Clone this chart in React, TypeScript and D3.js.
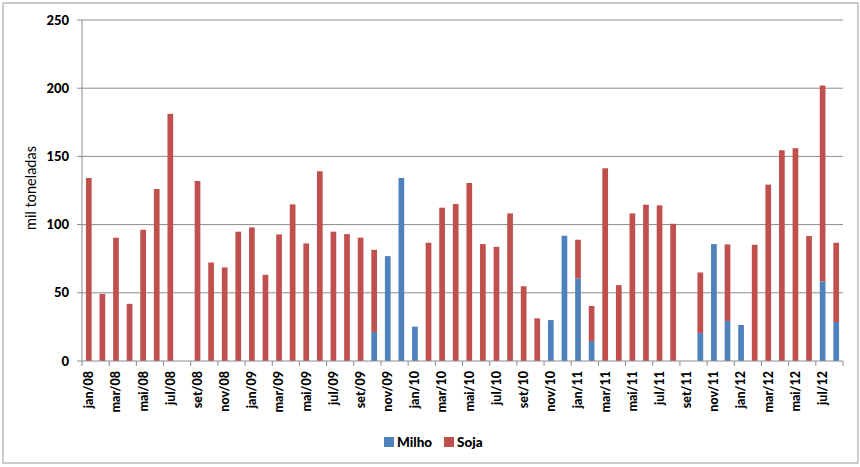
import React from "react";
import * as d3 from "d3";

const months = ["jan", "fev", "mar", "abr", "mai", "jun", "jul", "ago", "set", "out", "nov", "dez"];
const years = ["08", "09", "10", "11", "12"];
const categories: string[] = [];
years.forEach((y) => months.forEach((m) => categories.push(`${m}/${y}`)));
categories.splice(56);

// Milho (mil toneladas)
const milho = [
  0, 0, 0, 0, 0, 0, 0, 0, 0, 0, 0, 0,
  0, 0, 0, 0, 0, 0, 0, 0, 0, 21.3, 76.9, 134.2,
  25.2, 0, 0, 0, 0, 0, 0, 0, 0, 0, 30, 91.8,
  60.5, 14.7, 0, 0, 0, 0, 0, 0, 0, 20.6, 85.7, 29.4,
  26.4, 0, 0, 0, 0, 0, 58.3, 28.6,
];
// Soja (mil toneladas)
const soja = [
  134.2, 49.2, 90.4, 41.9, 96.2, 126.1, 181.2, 0, 132, 72.2, 68.6, 94.8,
  97.9, 63.2, 92.8, 114.8, 86.2, 139.1, 94.8, 93, 90.4, 60.2, 0, 0,
  0, 86.7, 112.4, 115.1, 130.5, 85.7, 83.7, 108.2, 54.8, 31.3, 0, 0,
  28.4, 25.7, 141.3, 55.6, 108.2, 114.6, 114.1, 100.6, 0, 44.3, 0, 56.1,
  0, 85.2, 129.3, 154.5, 156, 91.6, 143.7, 58.1,
];
const yTicks = [0, 50, 100, 150, 200, 250];
const seriesNames = ["Milho", "Soja"];
const colors = ["#4F81BD", "#C0504D"];

const W = 860;
const H = 467;
const left = 82;
const right = 843;
const top = 20;
const bottom = 361;
const font = "Lato, 'Liberation Sans', sans-serif";

export default function App() {
  const x = d3.scaleBand<string>().domain(categories).range([left, right]).paddingInner(0.58).paddingOuter(0.29);
  const y = d3.scaleLinear().domain([0, 250]).range([bottom, top]);
  const step = (right - left) / categories.length;

  const data = categories.map((c, i) => ({ c, milho: milho[i], soja: soja[i] }));
  const stack = d3.stack<any>().keys(["milho", "soja"])(data);

  return (
    <svg width={W} height={H} style={{ display: "block", position: "absolute", left: 0, top: 0 }}>
      <rect x={3} y={3} width={855} height={460} fill="#fff" stroke="#9a9a9a" strokeWidth={1} />
      {yTicks.map((t) => (
        <g key={t}>
          {t > 0 && <line x1={left} x2={right} y1={y(t)} y2={y(t)} stroke="#8c8c8c" strokeWidth={1} />}
          <line x1={left - 5} x2={left} y1={y(t)} y2={y(t)} stroke="#8c8c8c" />
          <text x={69} y={y(t)} dy="0.35em" textAnchor="end" fontFamily={font} fontWeight="900" fontSize={13} fill="#000">
            {t}
          </text>
        </g>
      ))}
      <text
        transform={`translate(36,188) rotate(-90)`}
        textAnchor="middle"
        fontFamily={font}
        fontSize={14.5}
        fill="#000"
      >
        mil toneladas
      </text>
      {stack.map((s, si) => (
        <g key={si} fill={colors[si]}>
          {s.map((d, i) =>
            d[1] - d[0] > 0 ? (
              <rect key={i} x={x(categories[i])} width={x.bandwidth()} y={y(d[1])} height={y(d[0]) - y(d[1])} />
            ) : null
          )}
        </g>
      ))}
      <line x1={left} x2={right} y1={bottom} y2={bottom} stroke="#8c8c8c" />
      <line x1={left} x2={left} y1={top} y2={bottom} stroke="#8c8c8c" />
      {d3.range(0, categories.length + 1, 2).map((i) => (
        <line key={i} x1={left + i * step} x2={left + i * step} y1={bottom} y2={bottom + 5} stroke="#8c8c8c" />
      ))}
      {categories.map((c, i) =>
        i % 2 === 0 ? (
          <text
            key={c}
            transform={`translate(${(x(c) as number) + x.bandwidth() / 2},371) rotate(-90)`}
            textAnchor="end"
            dy="0.35em"
            fontFamily={font}
            fontWeight="900"
            fontSize={12.5}
            fill="#000"
          >
            {c}
          </text>
        ) : null
      )}
      {seriesNames.map((n, i) => {
        const lx = [384, 444][i];
        return (
          <g key={n}>
            <rect x={lx} y={437} width={10} height={10} fill={colors[i]} />
            <text x={lx + 13} y={442} dy="0.35em" fontFamily={font} fontWeight="900" fontSize={13.5} fill="#000">
              {n}
            </text>
          </g>
        );
      })}
    </svg>
  );
}
